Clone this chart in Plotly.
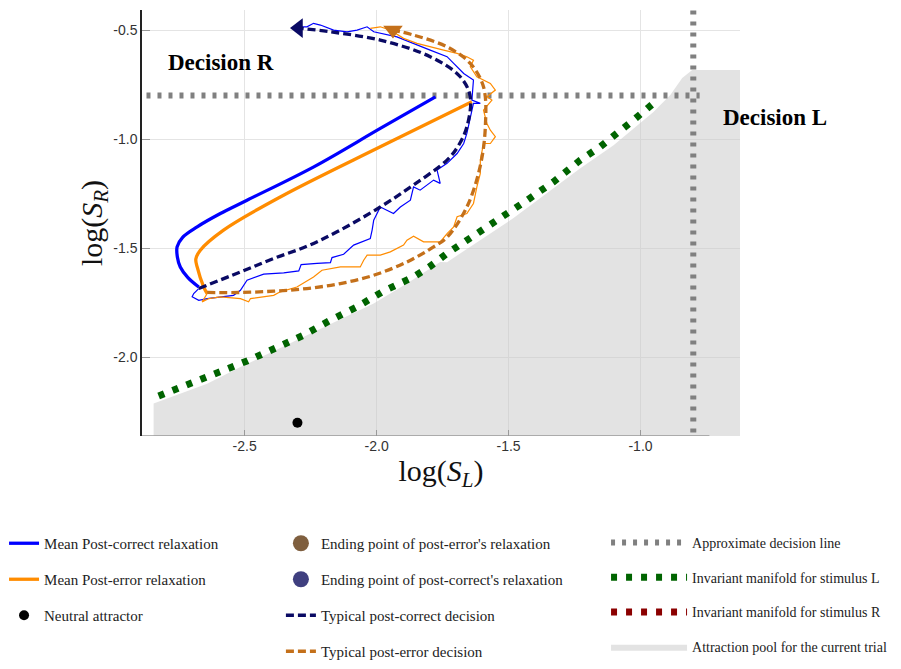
import plotly.graph_objects as go

# mean relaxation after a correct / an error trial  (log S_L, log S_R)
mean_correct_x = [-1.777, -1.986, -2.238, -2.491, -2.592, -2.680, -2.735, -2.756, -2.755, -2.744, -2.715, -2.674]
mean_correct_y = [-0.806, -0.951, -1.127, -1.280, -1.341, -1.402, -1.450, -1.494, -1.540, -1.586, -1.635, -1.678]
mean_error_x = [-1.639, -1.986, -2.365, -2.580, -2.668, -2.685, -2.680, -2.655, -2.642]
mean_error_y = [-0.829, -1.035, -1.265, -1.417, -1.509, -1.550, -1.586, -1.678, -1.708]

# typical single decisions (dashed)
typ_correct_x = [-2.674, -2.516, -2.390, -2.264, -2.150, -1.986, -1.860, -1.733, -1.690, -1.658, -1.645, -1.683, -1.797, -1.986, -2.175, -2.296]
typ_correct_y = [-1.685, -1.609, -1.547, -1.491, -1.425, -1.311, -1.210, -1.096, -1.030, -0.944, -0.806, -0.714, -0.622, -0.546, -0.508, -0.491]
typ_error_x = [-2.642, -2.516, -2.390, -2.264, -2.137, -2.011, -1.885, -1.784, -1.733, -1.658, -1.608, -1.588, -1.595, -1.645, -1.733, -1.860, -1.938]
typ_error_y = [-1.703, -1.703, -1.697, -1.685, -1.662, -1.624, -1.563, -1.494, -1.450, -1.311, -1.127, -0.944, -0.760, -0.653, -0.577, -0.523, -0.500]

# noisy sample trajectories
sample_correct_x = [-2.674, -2.693, -2.699, -2.674, -2.642, -2.592, -2.542, -2.516, -2.491, -2.428, -2.352, -2.295,
                    -2.286, -2.226, -2.175, -2.169, -2.125, -2.087, -2.024, -2.017, -2.011, -1.986, -1.936, -1.910,
                    -1.872, -1.860, -1.835, -1.784, -1.759, -1.771, -1.733, -1.695, -1.670, -1.658, -1.645, -1.633,
                    -1.607, -1.639, -1.633, -1.670, -1.708, -1.733, -1.797, -1.860, -1.923, -2.011, -2.036, -2.074,
                    -2.112, -2.163, -2.213, -2.239, -2.264, -2.302]
sample_correct_y = [-1.685, -1.708, -1.723, -1.739, -1.731, -1.723, -1.716, -1.693, -1.647, -1.619, -1.613, -1.604,
                    -1.575, -1.570, -1.566, -1.543, -1.528, -1.486, -1.456, -1.417, -1.372, -1.311, -1.341, -1.311,
                    -1.280, -1.219, -1.234, -1.188, -1.203, -1.142, -1.111, -1.066, -1.020, -0.974, -0.898, -0.836,
                    -0.836, -0.821, -0.729, -0.699, -0.653, -0.622, -0.592, -0.561, -0.531, -0.508, -0.485, -0.500,
                    -0.508, -0.500, -0.477, -0.469, -0.485, -0.485]
sample_error_x = [-2.642, -2.661, -2.636, -2.592, -2.516, -2.485, -2.478, -2.390, -2.365, -2.302, -2.239, -2.207,
                  -2.137, -2.062, -2.049, -2.036, -1.986, -1.948, -1.898, -1.885, -1.860, -1.822, -1.759, -1.733,
                  -1.708, -1.695, -1.658, -1.633, -1.620, -1.607, -1.607, -1.595, -1.569, -1.550, -1.569, -1.582,
                  -1.595, -1.563, -1.582, -1.550, -1.569, -1.620, -1.645, -1.633, -1.658, -1.695, -1.746, -1.797,
                  -1.847, -1.898, -1.948, -1.986, -2.024]
sample_error_y = [-1.708, -1.746, -1.731, -1.723, -1.731, -1.746, -1.731, -1.716, -1.700, -1.678, -1.632, -1.601,
                  -1.586, -1.586, -1.555, -1.532, -1.532, -1.517, -1.486, -1.463, -1.445, -1.471, -1.471, -1.433,
                  -1.402, -1.356, -1.341, -1.295, -1.219, -1.157, -1.096, -1.020, -1.020, -0.989, -0.959, -0.928,
                  -0.867, -0.821, -0.806, -0.775, -0.745, -0.714, -0.668, -0.638, -0.622, -0.607, -0.592, -0.577,
                  -0.561, -0.538, -0.500, -0.485, -0.492]

# invariant manifold for stimulus L
manifold_L_x = [-2.826, -2.712, -2.605, -2.491, -2.377, -2.277, -2.175, -2.074, -1.973, -1.860, -1.797, -1.733,
                -1.620, -1.519, -1.430, -1.330, -1.228, -1.153, -1.102, -1.027, -0.951]
manifold_L_y = [-2.178, -2.124, -2.072, -2.017, -1.955, -1.899, -1.830, -1.769, -1.696, -1.632, -1.583, -1.524,
                -1.433, -1.356, -1.280, -1.196, -1.096, -1.035, -0.989, -0.913, -0.836]

# attraction pool boundary
pool_x = [-2.845, -2.642, -2.516, -2.327, -2.138, -2.011, -1.885, -1.759, -1.733, -1.481, -1.228, -1.102,
          -0.951, -0.887, -0.842, -0.804, -0.623, -0.623, -2.845, -2.845]
pool_y = [-2.212, -2.121, -2.045, -1.937, -1.830, -1.754, -1.662, -1.563, -1.564, -1.362, -1.133, -1.028,
          -0.876, -0.798, -0.720, -0.683, -0.683, -2.361, -2.361, -2.212]

# approximate decision lines
decision_x = [-2.872, -0.776, None, -0.8, -0.8]
decision_y = [-0.8, -0.8, None, -0.41, -2.361]

neutral_x = [-2.3]
neutral_y = [-2.3]

x_ticks = [-2.5, -2.0, -1.5, -1.0]
x_ticktext = ["-2.5", "-2.0", "-1.5", "-1.0"]
y_ticks = [-0.5, -1.0, -1.5, -2.0]
y_ticktext = ["-0.5", "-1.0", "-1.5", "-2.0"]

serif = "Liberation Serif"

fig = go.Figure()

fig.add_trace(go.Scatter(x=pool_x, y=pool_y, mode="lines", fill="toself",
                         fillcolor="rgba(200,200,200,0.5)", line=dict(width=0),
                         name="Attraction pool for the current trial",
                         legend="legend3", legendgroup="pool", legendrank=4))
fig.add_trace(go.Scatter(x=manifold_L_x, y=manifold_L_y, mode="lines",
                         line=dict(color="#006400", width=7, dash="6px,9px"),
                         name="Invariant manifold for stimulus L",
                         legend="legend3", legendgroup="manL", legendrank=2))
fig.add_trace(go.Scatter(x=[None], y=[None], mode="lines",
                         line=dict(color="#8b0000", width=7, dash="6px,9px"),
                         name="Invariant manifold for stimulus R",
                         legend="legend3", legendgroup="manR", legendrank=3))
fig.add_trace(go.Scatter(x=decision_x, y=decision_y, mode="lines",
                         line=dict(color="#808080", width=6, dash="4px,7px"),
                         name="Approximate decision line",
                         legend="legend3", legendgroup="dec", legendrank=1))

fig.add_trace(go.Scatter(x=sample_correct_x, y=sample_correct_y, mode="lines",
                         line=dict(color="#0000ff", width=1.2), showlegend=False))
fig.add_trace(go.Scatter(x=sample_error_x, y=sample_error_y, mode="lines",
                         line=dict(color="#ff8c00", width=1.2), showlegend=False))

fig.add_trace(go.Scatter(x=mean_correct_x, y=mean_correct_y, mode="lines", line_shape="spline",
                         line=dict(color="#0000ff", width=3.3),
                         name="Mean Post-correct relaxation",
                         legend="legend", legendgroup="mc", legendrank=1))
fig.add_trace(go.Scatter(x=mean_error_x, y=mean_error_y, mode="lines", line_shape="spline",
                         line=dict(color="#ff8c00", width=3.3),
                         name="Mean Post-error relaxation",
                         legend="legend", legendgroup="me", legendrank=2))
fig.add_trace(go.Scatter(x=neutral_x, y=neutral_y, mode="markers",
                         marker=dict(color="black", size=10),
                         name="Neutral attractor",
                         legend="legend", legendgroup="na", legendrank=3))

fig.add_trace(go.Scatter(x=typ_correct_x, y=typ_correct_y, mode="lines", line_shape="spline",
                         line=dict(color="#0a0a64", width=3.3, dash="8px,4px"),
                         name="Typical post-correct decision",
                         legend="legend2", legendgroup="tc", legendrank=3))
fig.add_trace(go.Scatter(x=typ_error_x, y=typ_error_y, mode="lines", line_shape="spline",
                         line=dict(color="#c4701a", width=3.3, dash="8px,4px"),
                         name="Typical post-error decision",
                         legend="legend2", legendgroup="te", legendrank=4))
fig.add_trace(go.Scatter(x=typ_correct_x[-1:], y=typ_correct_y[-1:], mode="markers",
                         marker=dict(color="#0a0a64", size=17, symbol="triangle-left"),
                         showlegend=False))
fig.add_trace(go.Scatter(x=typ_error_x[-1:], y=typ_error_y[-1:], mode="markers",
                         marker=dict(color="#c4701a", size=17, symbol="triangle-down"),
                         showlegend=False))
fig.add_trace(go.Scatter(x=[None], y=[None], mode="markers",
                         marker=dict(color="#7f5f3f", size=22),
                         name="Ending point of post-error's relaxation",
                         legend="legend2", legendgroup="ee", legendrank=1))
fig.add_trace(go.Scatter(x=[None], y=[None], mode="markers",
                         marker=dict(color="#3f3f7f", size=22),
                         name="Ending point of post-correct's relaxation",
                         legend="legend2", legendgroup="ec", legendrank=2))

fig.add_annotation(x=-2.588, y=-0.647, text="Decision R", showarrow=False,
                   font=dict(family=serif, size=23, color="black", weight="bold"))
fig.add_annotation(x=1.0585, y=0.7465, xref="paper", yref="paper", text="Decision L",
                   xanchor="center", yanchor="middle", showarrow=False,
                   font=dict(family=serif, size=23, color="black", weight="bold"))

# x axis line only runs to about -0.74 in the original
fig.add_shape(type="line", xref="x", yref="y", x0=-2.889, x1=-0.739, y0=-2.361, y1=-2.361,
              line=dict(color="#999", width=1.5), layer="above")

legend_style = dict(bgcolor="rgba(0,0,0,0)", yanchor="top", y=-0.2136,
                    tracegroupgap=13.5, itemsizing="trace")

# page body has an 8px margin, so the figure is 16px smaller than the window
fig.update_layout(
    width=885, height=653,
    margin=dict(l=134, r=153, t=2, b=225, autoexpand=False),
    plot_bgcolor="white", paper_bgcolor="white",
    legend=dict(x=-0.2307, font=dict(family=serif, size=15, color="#222"), **legend_style),
    legend2=dict(x=0.2323, font=dict(family=serif, size=15, color="#222"), **legend_style),
    legend3=dict(x=0.776, itemwidth=76, font=dict(family=serif, size=14, color="#222"), **legend_style),
    xaxis=dict(range=[-2.889, -0.623], tickvals=x_ticks, ticktext=x_ticktext,
               ticks="inside", ticklen=6, tickcolor="#999", showline=False,
               showgrid=True, gridcolor="#e4e4e4", zeroline=False,
               tickfont=dict(family="Liberation Sans", size=14, color="#333"),
               title=dict(text="log(<i>S</i><sub><i>L</i></sub>)", standoff=6,
                          font=dict(family=serif, size=30, color="#111"))),
    yaxis=dict(range=[-2.361, -0.408], tickvals=y_ticks, ticktext=y_ticktext,
               ticks="inside", ticklen=8, tickcolor="#999", showline=True, linecolor="#222",
               linewidth=1.5, showgrid=True, gridcolor="#e4e4e4", zeroline=False,
               tickfont=dict(family="Liberation Sans", size=14, color="#333"),
               title=dict(text="log(<i>S</i><sub><i>R</i></sub>)", standoff=2,
                          font=dict(family=serif, size=30, color="#111"))),
)

fig.write_html("out.html")
